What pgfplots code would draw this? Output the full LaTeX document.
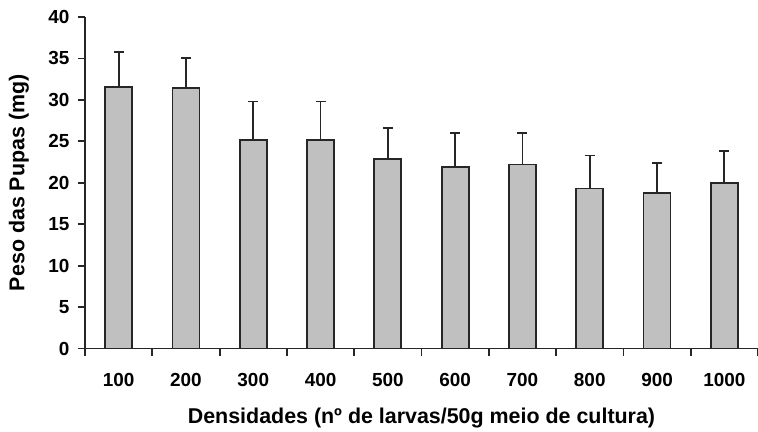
\documentclass[border=0pt]{standalone}
\usepackage{fontspec}
\setmainfont{Liberation Sans}
\usepackage{pgfplots}
\pgfplotsset{compat=1.18}
\definecolor{barfill}{RGB}{192,192,192}
\definecolor{edge}{RGB}{38,38,38}
\begin{document}
\begin{tikzpicture}
\begin{axis}[
  name=ax,
  scale only axis, width=673bp, height=331.5bp,
  xmin=0.5, xmax=10.5, ymin=0, ymax=40,
  axis x line*=bottom, axis y line*=left,
  axis line style={edge, line width=1.8bp},
  ytick={0,5,...,40},
  xtick={0.5,1.5,...,10.5},
  xticklabels={},
  extra x ticks={1,2,3,4,5,6,7,8,9,10},
  extra x tick labels={100,200,300,400,500,600,700,800,900,1000},
  extra x tick style={major tick length=0pt},
  tick align=outside,
  major tick length=7bp,
  tick style={edge, line width=1.8bp},
  /pgf/number format/assume math mode=true,
  ticklabel style={font=\fontsize{19}{21}\selectfont\bfseries},
  xticklabel style={anchor=center, yshift=-31bp},
  yticklabel style={xshift=-5bp},
  xlabel={Densidades (nº de larvas/50g meio de cultura)},
  ylabel={Peso das Pupas (mg)},
  label style={font=\fontsize{21.5}{23}\selectfont\bfseries},
  xlabel style={at={(rel axis cs:0.5,0)}, anchor=center, yshift=-69.5bp},
  ylabel style={at={(rel axis cs:0,0.5)}, anchor=center, yshift=66bp},
]
\addplot[ybar, bar width=0.4, fill=barfill, draw=edge, line width=1.8bp,
  error bars/.cd, y dir=plus, y explicit,
  error bar style={edge, line width=1.8bp},
  error mark options={rotate=90, edge, line width=1.8bp, mark size=5bp}]
  table[x=x, y=y, y error=e] {
x y e
1 31.6 4.2
2 31.4 3.7
3 25.2 4.6
4 25.2 4.6
5 22.9 3.7
6 21.9 4.1
7 22.2 3.8
8 19.3 4.0
9 18.8 3.6
10 20.0 3.8
};
\end{axis}
\pgfresetboundingbox
\path (ax.south west) ++(-85bp,-83.5bp) coordinate (bl);
\path (ax.north east) ++(0bp,17bp) coordinate (tr);
\useasboundingbox (bl) rectangle (tr);
\end{tikzpicture}
\end{document}
